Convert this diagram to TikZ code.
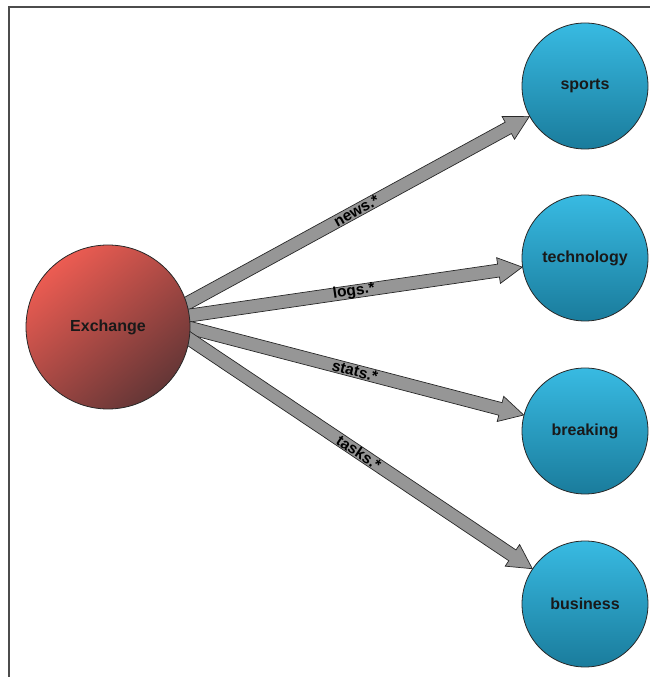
\documentclass[tikz,border=0pt]{standalone}
\usepackage{fontspec}
\setmainfont{Liberation Sans}
\usetikzlibrary{calc,backgrounds}

\definecolor{exTop}{RGB}{236,92,82}
\definecolor{exBot}{RGB}{100,54,54}
\definecolor{qTop}{RGB}{56,186,226}
\definecolor{qBot}{RGB}{26,124,156}
\definecolor{feedFill}{RGB}{150,150,150}
\definecolor{lineDark}{RGB}{40,40,40}

% block arrow from #1 to the border of node #2, label #3
\newcommand\feedarrow[3]{%
  \path (#1) -- (#2) coordinate[pos=0] (base) coordinate[pos=1] (tip);
  \coordinate (neck) at ($(tip)!24pt!(base)$);
  \draw[feed] ($(base)!6.5pt!90:(tip)$) -- ($(neck)!6.5pt!90:(tip)$)
    -- ($(neck)!13pt!90:(tip)$) -- (tip) -- ($(neck)!13pt!-90:(tip)$)
    -- ($(neck)!6.5pt!-90:(tip)$) -- ($(base)!6.5pt!-90:(tip)$) -- cycle;
  \path (base) -- (tip) node[midway, sloped, feedlabel] {#3};
}

\begin{document}
\begin{tikzpicture}[x=1pt, y=1pt,
    feed/.style={fill=feedFill, draw=lineDark, line width=0.7pt, line join=miter},
    feedlabel/.style={font=\fontsize{15.5}{17}\selectfont\bfseries, text=black, inner sep=0pt}]

  \useasboundingbox (0,0) rectangle (650,677);
  \draw[line width=2pt, draw=black!70] (9,0) -- (9,670) -- (650,670);

  \begin{scope}[every node/.style={circle, draw=lineDark, line width=0.8pt,
      font=\fontsize{16}{18}\selectfont\bfseries, text=black!90, inner sep=0pt}]
    \node[minimum size=164pt, shading=axis, top color=exTop, bottom color=exBot,
      shading angle=40] (ex) at (108,350) {Exchange};

    \begin{scope}[every node/.append style={minimum size=126pt, shading=axis,
        top color=qTop, bottom color=qBot}]
      \node (sports)   at (585,591) {sports};
      \node (tech)     at (585,419) {technology};
      \node (breaking) at (585,246) {breaking};
      \node (business) at (585,73)  {business};
    \end{scope}
  \end{scope}

  \begin{pgfonlayer}{background}
    \feedarrow{$(ex.center)!0.95!(ex.16)$}{sports}{news.*}
    \feedarrow{$(ex.center)!0.95!(ex.8)$}{tech}{logs.*}
    \feedarrow{$(ex.center)!0.95!(ex.0)$}{breaking}{stats.*}
    \feedarrow{$(ex.center)!0.95!(ex.-7)$}{business}{tasks.*}
  \end{pgfonlayer}

\end{tikzpicture}
\end{document}
